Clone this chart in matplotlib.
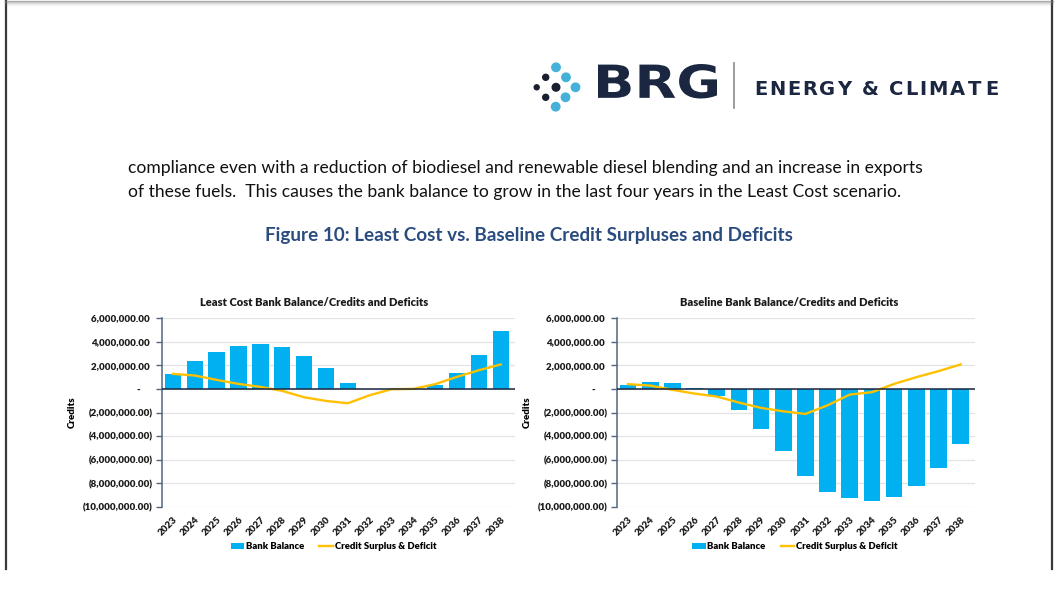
import matplotlib.pyplot as plt
from matplotlib.ticker import FuncFormatter
from matplotlib.patches import Circle, PathPatch
from matplotlib.textpath import TextPath
from matplotlib.font_manager import FontProperties
from matplotlib.transforms import Affine2D

# Data (credits)
years = ['2023', '2024', '2025', '2026', '2027', '2028', '2029', '2030',
         '2031', '2032', '2033', '2034', '2035', '2036', '2037', '2038']

least_cost_bank = [1240000, 2380000, 3140000, 3590000, 3820000, 3510000, 2770000, 1730000,
                   480000, 0, 0, 0, 340000, 1330000, 2830000, 4920000]
least_cost_credit = [1270000, 1130000, 760000, 420000, 170000, -170000, -710000, -1020000,
                     -1220000, -540000, -30000, 0, 400000, 1020000, 1580000, 2070000]

baseline_bank = [340000, 570000, 480000, 80000, -620000, -1780000, -3390000, -5290000,
                 -7380000, -8770000, -9280000, -9500000, -9190000, -8230000, -6700000, -4640000]
baseline_credit = [400000, 280000, -80000, -400000, -650000, -1160000, -1610000, -1900000,
                   -2120000, -1390000, -480000, -280000, 420000, 990000, 1500000, 2070000]

paragraph = [
    "compliance even with a reduction of biodiesel and renewable diesel blending and an increase in exports",
    "of these fuels.  This causes the bank balance to grow in the last four years in the Least Cost scenario.",
]
caption = "Figure 10: Least Cost vs. Baseline Credit Surpluses and Deficits"

BAR_COLOR = '#00B0F0'
LINE_COLOR = '#FFC000'
NAVY = '#1B2740'
FONT = 'Lato'

W, H = 1054, 598
fig = plt.figure(figsize=(W / 100, H / 100), dpi=100)
fig.patch.set_facecolor('white')

# page background in pixel coordinates
bg = fig.add_axes([0, 0, 1, 1])
bg.set_xlim(0, W)
bg.set_ylim(H, 0)
bg.axis('off')

# page edges
bg.plot([5.5, 5.5], [0, 569], color='#3a3a3a', lw=1.6)
bg.plot([1052.3, 1052.3], [0, 569], color='#3a3a3a', lw=1.6)
for i, a in enumerate([0.6, 0.35, 0.2, 0.1, 0.05]):
    bg.plot([5, 1053], [0.5 + i, 0.5 + i], color='gray', alpha=a, lw=1)

# logo
for (cx, cy, r) in [(556, 67.3, 4.2), (566, 77.3, 4.2), (575.5, 87.3, 4.2),
                    (565.5, 97.3, 4.2), (555.7, 106.7, 4.2)]:
    bg.add_patch(Circle((cx, cy), r, color='#45B1D8'))
for (cx, cy, r) in [(545.7, 77.3, 3.0), (556, 87.3, 3.8), (536.7, 87.3, 2.5), (545.7, 97.3, 3.0)]:
    bg.add_patch(Circle((cx, cy), r, color='#1a2030'))


def fitted_word(s, x0, x1, top, bottom, color):
    # text outline stretched to fill the given pixel box
    tp = TextPath((0, 0), s, size=100, prop=FontProperties(family='DejaVu Sans', weight='bold'))
    ext = tp.get_extents()
    tr = (Affine2D().translate(-ext.x0, -ext.y0)
          .scale((x1 - x0) / ext.width, -(bottom - top) / ext.height)
          .translate(x0, bottom))
    bg.add_patch(PathPatch(tr.transform_path(tp), facecolor=color, edgecolor='none'))


def spaced_text(x0, x1, y, s, size, **kw):
    # spread the letters so the word spans x0..x1 pixels
    prop = FontProperties(family='DejaVu Sans', weight='bold')
    px = size * 100 / 72
    bar = TextPath((0, 0), '|', size=px, prop=prop).get_extents().width
    adv = [TextPath((0, 0), c + '|', size=px, prop=prop).get_extents().width - bar
           if c != ' ' else px * 0.32 for c in s]
    last = TextPath((0, 0), s[-1], size=px, prop=prop).get_extents().width
    extra = (x1 - x0 - sum(adv[:-1]) - last) / (len(s) - 1)
    x = x0
    for c, a in zip(s, adv):
        bg.text(x, y, c, fontsize=size, fontweight='bold', family='DejaVu Sans',
                va='baseline', ha='left', **kw)
        x += a + extra


fitted_word('BRG', 598, 717, 64, 98.5, NAVY)
bg.plot([734, 734], [63, 108], color='#8a8a8a', lw=1.2)
spaced_text(754, 995, 95, 'ENERGY & CLIMATE', 14, color=NAVY)

# paragraph and caption
for k, line in enumerate(paragraph):
    bg.text(128, 168 + 24 * k, line, fontsize=12.6, family=FONT, color='#111111',
            va='center', ha='left')
bg.text(529, 236, caption, fontsize=13.6, family=FONT, fontweight='bold',
        color='#2B4C7E', va='center', ha='center')


def credit_fmt(v, pos):
    if abs(v) < 1:
        return '-     '
    if v < 0:
        return '({:,.2f})'.format(abs(v))
    return '{:,.2f} '.format(v)


def draw_chart(rect, title, title_x, bank, credit, legend_x):
    ax = fig.add_axes(rect)
    x = list(range(len(years)))
    bars = ax.bar(x, bank, width=0.75, color=BAR_COLOR, zorder=2)
    line, = ax.plot(x, credit, color=LINE_COLOR, lw=1.7, zorder=3)
    ax.axhline(0, color=NAVY, lw=1.1, zorder=4)

    ax.set_ylim(-10000000, 6000000)
    ax.set_xlim(-0.5, len(years) - 0.35)
    ax.set_yticks(range(-10000000, 6000001, 2000000))
    ax.yaxis.set_major_formatter(FuncFormatter(credit_fmt))
    ax.grid(axis='y', color='#e3e3e3', lw=0.9, zorder=0)
    ax.set_axisbelow(True)

    for s in ['top', 'right', 'bottom']:
        ax.spines[s].set_visible(False)
    ax.spines['left'].set_color('#52677F')
    ax.spines['left'].set_linewidth(1.1)
    ax.tick_params(axis='y', length=4, width=1, color='#52677F', pad=3)
    ax.tick_params(axis='x', length=0, pad=6)

    ax.set_xticks(x)
    ax.set_xticklabels(years, rotation=45, ha='right', va='top', rotation_mode='anchor')
    for lab in ax.get_xticklabels() + ax.get_yticklabels():
        lab.set_fontsize(7)
        lab.set_fontweight('heavy')
        lab.set_family(FONT)
        lab.set_color('#1a1a1a')

    ax.set_ylabel('Credits', fontsize=7, fontweight='heavy', family=FONT, labelpad=4)
    ax.legend([bars, line], ['Bank Balance', 'Credit Surplus & Deficit'],
              loc='center', bbox_to_anchor=(legend_x, -0.21), ncol=2, frameon=False,
              prop={'family': FONT, 'weight': 'heavy', 'size': 6.8},
              handlelength=1.4, handleheight=0.6, handletextpad=0.2, columnspacing=1.6)
    bg.text(title_x, 302, title, fontsize=8, fontweight='heavy', family=FONT,
            color='#1a1a1a', ha='center', va='center')
    return ax


draw_chart([162 / W, (H - 507) / H, 353 / W, 189 / H],
           'Least Cost Bank Balance/Credits and Deficits', 314,
           least_cost_bank, least_cost_credit, 0.486)
draw_chart([617 / W, (H - 507) / H, 358 / W, 189 / H],
           'Baseline Bank Balance/Credits and Deficits', 789,
           baseline_bank, baseline_credit, 0.497)

fig.savefig('out.png', dpi=100, facecolor='white')
